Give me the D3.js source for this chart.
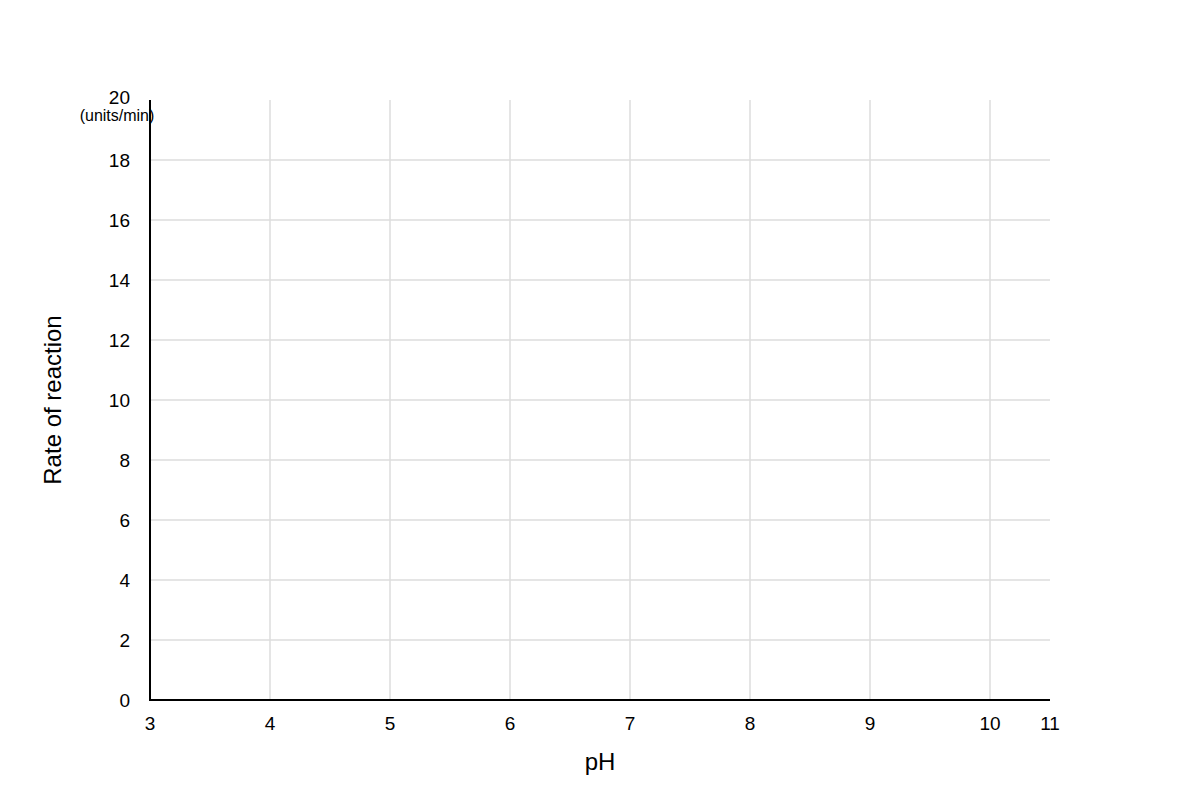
<!DOCTYPE html>
<html>
<head>
<meta charset="utf-8">
<script src="https://cdn.jsdelivr.net/npm/d3@7"></script>
<style>
  body { margin: 0; background: #fff; }
  text { font-family: "Liberation Sans", Arial, sans-serif; fill: #000; }
</style>
</head>
<body>
<script>
// axis data
var xTicks = [3, 4, 5, 6, 7, 8, 9, 10, 10.5];
var xLabels = ["3", "4", "5", "6", "7", "8", "9", "10", "11"];
var yTicks = [0, 2, 4, 6, 8, 10, 12, 14, 16, 18, 20];

var width = 1200,
	height = 800;

var svg = d3.select("body").append("svg")
	.attr("width", width)
	.attr("height", height);

// x: 3..10.5 across 150..1050 (the last label reads 11)
var x = d3.scaleLinear().domain([3, 10.5]).range([150, 1050]);
var y = d3.scaleLinear().domain([0, 20]).range([700, 100]);

// grid lines
svg.append("g").selectAll("line")
	.data(xTicks.filter(function(d){ return d > 3 && d < 10.5; }))
	.enter().append("line")
	.attr("x1", function(d){ return x(d); })
	.attr("x2", function(d){ return x(d); })
	.attr("y1", y(20)).attr("y2", y(0))
	.attr("stroke", "#dddddd").attr("stroke-width", 1.5);

svg.append("g").selectAll("line")
	.data(yTicks.filter(function(d){ return d > 0 && d < 20; }))
	.enter().append("line")
	.attr("x1", x(3)).attr("x2", x(10.5))
	.attr("y1", function(d){ return y(d); })
	.attr("y2", function(d){ return y(d); })
	.attr("stroke", "#dddddd").attr("stroke-width", 1.5);

// axis lines
svg.append("line")
	.attr("x1", x(3)).attr("x2", x(3))
	.attr("y1", y(20)).attr("y2", y(0))
	.attr("stroke", "#000").attr("stroke-width", 2);
svg.append("line")
	.attr("x1", x(3) - 1).attr("x2", x(10.5))
	.attr("y1", y(0)).attr("y2", y(0))
	.attr("stroke", "#000").attr("stroke-width", 2);

// tick labels
svg.append("g").selectAll("text")
	.data(xTicks)
	.enter().append("text")
	.attr("x", function(d){ return x(d); })
	.attr("y", 730)
	.attr("text-anchor", "middle")
	.style("font-size", "19px")
	.text(function(d, i){ return xLabels[i]; });

svg.append("g").selectAll("text")
	.data(yTicks)
	.enter().append("text")
	.attr("x", 130)
	.attr("y", function(d){ return y(d); })
	.attr("dy", d => d == 20 ? ".2em" : ".35em")
	.attr("text-anchor", "end")
	.style("font-size", "19px")
	.text(function(d){ return d; });

// unit label
svg.append("text")
	.attr("x", 117).attr("y", 121)
	.attr("text-anchor", "middle")
	.style("font-size", "16px")
	.text("(units/min)");

// axis titles
svg.append("text")
	.attr("x", 600).attr("y", 770)
	.attr("text-anchor", "middle")
	.style("font-size", "24px")
	.text("pH");

svg.append("text")
	.attr("transform", "translate(61,400) rotate(-90)")
	.attr("text-anchor", "middle")
	.style("font-size", "24px")
	.text("Rate of reaction");
</script>
</body>
</html>
